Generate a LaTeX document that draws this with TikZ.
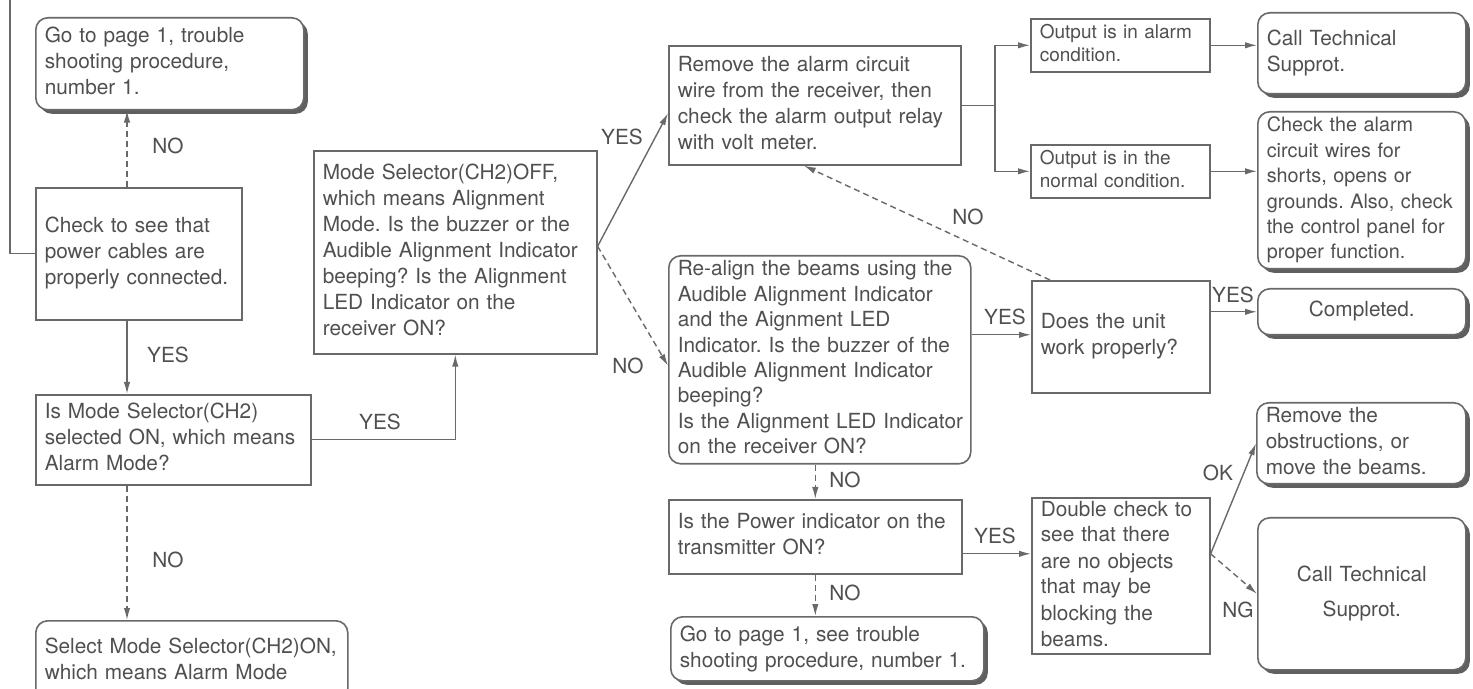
\documentclass[tikz,border=0pt]{standalone}
\usepackage{fontspec}
\setmainfont{TeX Gyre Heros}
\usetikzlibrary{arrows.meta,shadows,calc}
\definecolor{linec}{RGB}{105,105,105}
\definecolor{textc}{RGB}{80,80,80}
\definecolor{shadowc}{RGB}{95,95,95}
\newcommand{\dgfont}{\fontsize{10.4}{13}\selectfont}
\newcommand{\dgfontsmall}{\fontsize{9.5}{11.6}\selectfont}
\newcommand{\dgfontmid}{\fontsize{9.9}{12.7}\selectfont}
\newcommand{\tl}[1]{\begin{tabular}{@{}l@{}}#1\end{tabular}}
\newcommand{\tc}[1]{\begin{tabular}{@{}c@{}}#1\end{tabular}}
\renewcommand{\arraystretch}{1}
\tikzset{
  box/.style={draw=linec, line width=0.8pt, fill=white, text=textc, font=\dgfont,
    align=left, inner xsep=4.5pt, inner ysep=0pt, anchor=north west},
  rbox/.style={box, rounded corners=6pt},
  sbox/.style={rbox, drop shadow={shadow xshift=2pt, shadow yshift=-2pt, opacity=1, fill=shadowc}},
  sz/.style n args={3}{minimum width=#1, minimum height=#2, text width=#3},
  lbl/.style={text=textc, font=\dgfont, inner sep=0pt},
  ln/.style={draw=linec, line width=0.7pt},
  arr/.style={ln, -{Latex[length=6pt,width=3.2pt]}},
  darr/.style={arr, dash pattern=on 3pt off 2pt},
}
\begin{document}
\frenchspacing
\begin{tikzpicture}[x=0.5pt,y=-0.5pt]
\useasboundingbox (0,0) rectangle (1473,689);
\clip (0,0) rectangle (1473,689);
\fill[white] (0,0) rectangle (1473,689);

% left column
\node[sbox, sz={134pt}{46pt}{125pt}] (a) at (35,17)
  {\tl{Go to page 1, trouble\\shooting procedure,\\number 1.}};
\node[box, sz={103pt}{66pt}{94pt}] (b) at (35,187)
  {\tl{Check to see that\\power cables are\\properly connected.}};
\node[box, sz={137.5pt}{45pt}{128.5pt}] (c) at (35,394)
  {\tl{Is Mode Selector(CH2)\\selected ON, which means\\Alarm Mode?}};
\node[rbox, sz={156pt}{40pt}{147pt}] (e) at (35,620)
  {\tl{Select Mode Selector(CH2)ON,\\which means Alarm Mode}};

% second column
\node[box, sz={141.5pt}{101.5pt}{132.5pt}] (d) at (313,150)
  {\tl{Mode Selector(CH2)OFF,\\which means Alignment\\Mode. Is the buzzer or the\\Audible Alignment Indicator\\beeping? Is the Alignment\\LED Indicator on the\\receiver ON?}};

% third column
\node[box, sz={146pt}{59.5pt}{137pt}] (f) at (668,45)
  {\tl{Remove the alarm circuit\\wire from the receiver, then\\check the alarm output relay\\with volt meter.}};
\node[rbox, font=\fontsize{10.4}{12.7}\selectfont, sz={150.5pt}{104pt}{142pt}] (g) at (668,255)
  {\tl{Re-align the beams using the\\Audible Alignment Indicator\\and the Aignment LED\\Indicator. Is the buzzer of the\\Audible Alignment Indicator\\beeping?\\Is the Alignment LED Indicator\\on the receiver ON?}};
\node[box, sz={146.5pt}{37pt}{137.5pt}] (l) at (668,499)
  {\tl{Is the Power indicator on the\\transmitter ON?}};
\node[sbox, sz={156.5pt}{32pt}{147.5pt}] (m) at (670,616)
  {\tl{Go to page 1, see trouble\\shooting procedure, number 1.}};

% fourth column
\node[box, font=\dgfontsmall, sz={89.5pt}{26.5pt}{80.5pt}] (h1) at (1030,18)
  {\tl{Output is in alarm\\condition.}};
\node[box, font=\dgfontsmall, sz={89.5pt}{26.5pt}{80.5pt}] (h2) at (1030,144)
  {\tl{Output is in the\\normal condition.}};
\node[box, sz={89pt}{56pt}{80pt}] (j) at (1031,280)
  {\tl{Does the unit\\work properly?}};
\node[box, sz={89pt}{78pt}{80pt}] (n) at (1031,497)
  {\tl{Double check to\\see that there\\are no objects\\that may be\\blocking the\\beams.}};

% fifth column
\node[sbox, sz={104pt}{40.5pt}{95pt}] (i1) at (1257,12)
  {\tl{Call Technical\\Supprot.}};
\node[sbox, font=\dgfontmid, sz={104pt}{78.5pt}{95pt}] (i2) at (1257,111)
  {\tl{Check the alarm\\circuit wires for\\shorts, opens or\\grounds. Also, check\\the control panel for\\proper function.}};
\node[sbox, align=center, sz={104pt}{23pt}{95pt}] (k) at (1257,288)
  {\tc{Completed.}};
\node[sbox, sz={104.5pt}{40.5pt}{95.5pt}] (o) at (1256,402)
  {\tl{Remove the\\obstructions, or\\move the beams.}};
\node[sbox, align=center, sz={104pt}{76pt}{95pt}] (p) at (1257,517)
  {\tc{Call Technical\\[4.5pt]Supprot.}};

% helper coordinates
\coordinate (xa) at (127,0);
\coordinate (topl) at (10,-5);
\coordinate (dout) at ([yshift=3pt]d.east);
\coordinate (fork) at (995,0);
\coordinate (lout) at ([yshift=-8.5pt]l.east);
\coordinate (nout) at ([yshift=11pt]n.east);
\coordinate (gout) at ([yshift=12.5pt]g.east);

% connectors
\draw[ln] (b.west) -| (topl);
\draw[darr] (b.north -| xa) -- (a.south -| xa);
\draw[arr] (b.south -| xa) -- (c.north -| xa);
\draw[darr] (c.south -| xa) -- (e.north -| xa);
\draw[arr] (c.east) -| (d.south);
\draw[arr] (dout) -- ([yshift=-4pt]f.west);
\draw[darr] (dout) -- ([yshift=-3pt]g.west);
\draw[ln] (f.east) -- (f.east -| fork);
\draw[arr] (f.east -| fork) |- (h1.west);
\draw[arr] (f.east -| fork) |- (h2.west);
\draw[arr] (h1.east) -- (h1.east -| i1.west);
\draw[arr] (h2.east) -- (h2.east -| i2.west);
\draw[arr] (gout) -- (gout -| j.west);
\draw[arr] (k.west -| j.east) -- (k.west);
\draw[darr] ([xshift=9.5pt]j.north west) -- ([xshift=-5.5pt]f.south);
\draw[darr] (l.north |- g.south) -- (l.north);
\draw[darr] (l.south) -- (l.south |- m.north);
\draw[arr] (lout) -- (lout -| n.west);
\draw[arr] (nout) -- (o.west);
\draw[darr] (nout) -- (p.west);

% labels
\node[lbl] (t1) at (168,146) {NO};
\node[lbl] (t2) at (168,355) {YES};
\node[lbl] (t3) at (380,422) {YES};
\node[lbl] (t4) at (168,560) {NO};
\node[lbl] (t5) at (622,137) {YES};
\node[lbl] (t6) at (628,366) {NO};
\node[lbl] (t7) at (968,217) {NO};
\node[lbl] (t8) at (1005,317) {YES};
\node[lbl] (t9) at (1233,295) {YES};
\node[lbl] (t10) at (845,480) {NO};
\node[lbl] (t11) at (845,593) {NO};
\node[lbl] (t12) at (995,536) {YES};
\node[lbl] (t13) at (1218,473) {OK};
\node[lbl] (t14) at (1238,610) {NG};
\end{tikzpicture}
\end{document}
